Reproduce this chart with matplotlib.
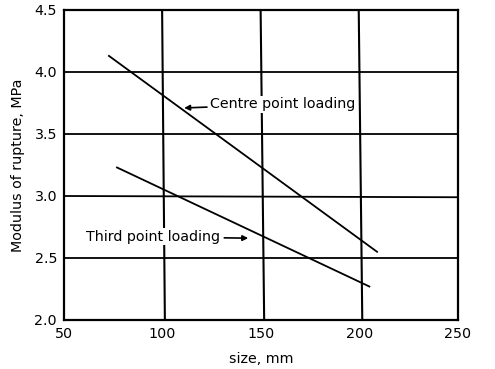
import matplotlib.pyplot as plt

# lines (size in mm, modulus in MPa)
centre_x = [72.8, 208.9]
centre_y = [4.13, 2.55]
third_x = [76.9, 205.0]
third_y = [3.23, 2.27]

# hand-drawn grid, slightly skewed
vgrid_top = [99.8, 149.8, 199.6]
vgrid_bot = [101.2, 151.6, 201.4]
hgrid_left = [2.5, 3.0, 3.5, 4.0]
hgrid_right = [2.5, 2.99, 3.5, 4.0]

fig = plt.figure(figsize=(4.95, 3.69), dpi=100)
ax = fig.add_axes([0.1293, 0.1328, 0.7960, 0.8401])

for xt, xb in zip(vgrid_top, vgrid_bot):
    ax.plot([xt, xb], [4.5, 2.0], color='black', lw=1.5, zorder=1)
for yl, yr in zip(hgrid_left, hgrid_right):
    ax.plot([50, 250], [yl, yr], color='black', lw=1.3, zorder=1)

ax.plot(centre_x, centre_y, color='black', lw=1.3, zorder=2)
ax.plot(third_x, third_y, color='black', lw=1.3, zorder=2)

ax.annotate('Centre point loading', xy=(111.0, 3.71), xytext=(124.0, 3.74),
            fontsize=10.3, va='center', ha='left', zorder=3,
            bbox=dict(boxstyle='square,pad=0.1', fc='white', ec='none'),
            arrowprops=dict(arrowstyle='-|>', color='black', lw=1.2,
                        mutation_scale=8, shrinkA=1, shrinkB=0))
ax.annotate('Third point loading', xy=(143.5, 2.66), xytext=(61.2, 2.67),
            fontsize=10.3, va='center', ha='left', zorder=3,
            bbox=dict(boxstyle='square,pad=0.1', fc='white', ec='none'),
            arrowprops=dict(arrowstyle='-|>', color='black', lw=1.2,
                        mutation_scale=8, shrinkA=2, shrinkB=0))

ax.set_xlim(50, 250)
ax.set_ylim(2.0, 4.5)
ax.set_xticks([50, 100, 150, 200, 250])
ax.set_yticks([2.0, 2.5, 3.0, 3.5, 4.0, 4.5])
ax.set_yticklabels(['2.0', '2.5', '3.0', '3.5', '4.0', '4.5'])
ax.tick_params(length=0, labelsize=10.3, pad=5)
for s in ax.spines.values():
    s.set_linewidth(1.6)
    s.set_zorder(4)

ax.set_xlabel('size, mm', fontsize=10.3, labelpad=8)
ax.set_ylabel('Modulus of rupture, MPa', fontsize=10.3, labelpad=7)

fig.savefig('out.png', dpi=100)
